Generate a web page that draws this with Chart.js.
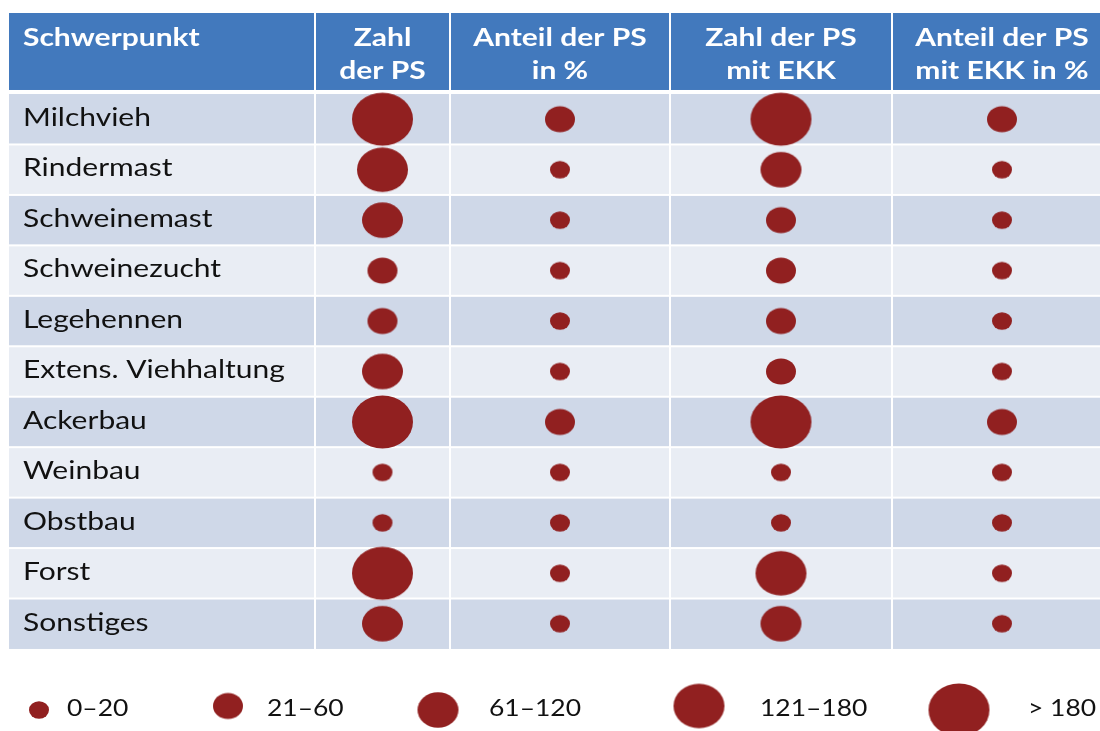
<!DOCTYPE html>
<html lang="de">
<head>
<meta charset="utf-8">
<title>Schwerpunkt – Zahl und Anteil der PS</title>
<script src="https://cdn.jsdelivr.net/npm/chart.js@4.4.1/dist/chart.umd.min.js"></script>
<style>
  html, body { margin: 0; padding: 0; background: #fff; }
  #wrap { width: 1100px; height: 731px; position: relative; }
</style>
</head>
<body>
<div id="wrap"><canvas id="chart"></canvas></div>
<script>
/* Daten: Größenklasse je Zelle (1 = 0–20 ... 5 = > 180) */
const firstHeader = 'Schwerpunkt';
const rows = ['Milchvieh', 'Rindermast', 'Schweinemast', 'Schweinezucht', 'Legehennen',
  'Extens. Viehhaltung', 'Ackerbau', 'Weinbau', 'Obstbau', 'Forst', 'Sonstiges'];
const columns = [['Zahl', 'der PS'], ['Anteil der PS', 'in %'], ['Zahl der PS', 'mit EKK'], ['Anteil der PS', 'mit EKK in %']];
const sizeClasses = ['0–20', '21–60', '61–120', '121–180', '> 180'];

const zahlPS      = [5, 4, 3, 2, 2, 3, 5, 1, 1, 5, 3];
const anteilPS    = [2, 1, 1, 1, 1, 1, 2, 1, 1, 1, 1];
const zahlPSEKK   = [5, 3, 2, 2, 2, 2, 5, 1, 1, 4, 3];
const anteilPSEKK = [2, 1, 1, 1, 1, 1, 2, 1, 1, 1, 1];
const series = [zahlPS, anteilPS, zahlPSEKK, anteilPSEKK];

/* Layout */
const COL_EDGES = [0, 306, 441, 661, 883, 1103];   // x-Einheiten ab linkem Tabellenrand
const Y_MIN = -1.606, Y_MAX = 12.626;               // Zeile i liegt zwischen i und i+1
const HEADER_BOTTOM = -0.08;
const BUBBLE_W = [20, 30, 41, 51, 61];
const BUBBLE_ASPECT = 1.15;                         // Bild ist horizontal gestreckt
const TEXT_STRETCH = 1.2;
const LEGEND_STRETCH = 1.15;
const FONT = 'Lato, "Open Sans", sans-serif';
const COLORS = {
  header: '#4279bd', rowDark: '#cfd8e8', rowLight: '#e9edf4',
  bubble: '#912020', text: '#111111', line: '#ffffff',
};
const LEGEND_KEY_X = [39, 228, 438, 699, 959];
const LEGEND_KEY_Y = [710, 706, 710, 706, 710];
const LEGEND_TEXT_X = [67, 267, 489, 760, 1028];
const LEGEND_TEXT_Y = 716;

function ellipseSprite(w) {
  const h = w / BUBBLE_ASPECT;
  const c = document.createElement('canvas');
  c.width = Math.ceil(w) + 2;
  c.height = Math.ceil(h) + 2;
  const g = c.getContext('2d');
  g.fillStyle = COLORS.bubble;
  g.beginPath();
  g.ellipse(c.width / 2, c.height / 2, w / 2, h / 2, 0, 0, Math.PI * 2);
  g.fill();
  return c;
}
const sprites = BUBBLE_W.map(ellipseSprite);

function stretchedText(ctx, text, x, y, align, sx) {
  ctx.save();
  ctx.translate(x, y);
  ctx.scale(sx, 1);
  ctx.textAlign = align;
  ctx.fillText(text, 0, 0);
  ctx.restore();
}

const colCenter = i => (COL_EDGES[i] + COL_EDGES[i + 1]) / 2;

const tablePlugin = {
  id: 'tableGrid',
  beforeDatasetsDraw(chart) {
    const { ctx, scales: { x, y } } = chart;
    const px = v => x.getPixelForValue(v);
    const py = v => y.getPixelForValue(v);
    const left = px(0), right = px(COL_EDGES[COL_EDGES.length - 1]);
    const top = py(Y_MIN), bottom = py(rows.length);

    ctx.save();
    ctx.fillStyle = COLORS.header;
    ctx.fillRect(left, top, right - left, py(HEADER_BOTTOM) - top);
    rows.forEach((r, i) => {
      ctx.fillStyle = i % 2 ? COLORS.rowLight : COLORS.rowDark;
      ctx.fillRect(left, py(i), right - left, py(i + 1) - py(i));
    });

    ctx.fillStyle = COLORS.line;
    for (let i = 1; i < rows.length; i++) ctx.fillRect(left, py(i) - 1, right - left, 2);
    COL_EDGES.slice(1, -1).forEach(e => ctx.fillRect(px(e) - 1, top, 2, bottom - top));

    // Kopfzeile
    ctx.fillStyle = '#ffffff';
    ctx.font = `bold 25px ${FONT}`;
    ctx.textBaseline = 'alphabetic';
    stretchedText(ctx, firstHeader, left + 14, top + 33, 'left', TEXT_STRETCH);
    columns.forEach((lines, ci) => {
      const cx = px(colCenter(ci + 1));
      lines.forEach((t, li) => stretchedText(ctx, t, cx, top + 33 + li * 33, 'center', TEXT_STRETCH));
    });

    // Zeilenbeschriftung
    ctx.fillStyle = COLORS.text;
    ctx.font = `25px ${FONT}`;
    rows.forEach((r, i) => stretchedText(ctx, r, left + 14, py(i) + 32, 'left', TEXT_STRETCH));
    ctx.restore();
  },
  afterDatasetsDraw(chart) {
    const { ctx } = chart;
    ctx.save();
    sizeClasses.forEach((label, i) => {
      const s = sprites[i];
      ctx.drawImage(s, LEGEND_KEY_X[i] - s.width / 2, LEGEND_KEY_Y[i] - s.height / 2);
      ctx.fillStyle = COLORS.text;
      ctx.font = `23px ${FONT}`;
      stretchedText(ctx, label, LEGEND_TEXT_X[i], LEGEND_TEXT_Y, 'left', LEGEND_STRETCH);
    });
    ctx.restore();
  },
};

const datasets = series.map((vals, ci) => ({
  label: columns[ci].join(' '),
  data: vals.map((c, ri) => ({ x: colCenter(ci + 1), y: ri + 0.5, c })),
  pointStyle: ctx => sprites[ctx.raw.c - 1],
  pointRadius: 10,
  pointHoverRadius: 10,
}));

new Chart(document.getElementById('chart'), {
  type: 'scatter',
  data: { datasets },
  options: {
    responsive: true,
    maintainAspectRatio: false,
    animation: false,
    events: [],
    layout: { autoPadding: false, padding: { left: 9, top: 13, right: 0, bottom: 0 } },
    plugins: { legend: { display: false }, tooltip: { enabled: false } },
    scales: {
      x: { type: 'linear', min: 0, max: 1091, display: false },
      y: { type: 'linear', min: Y_MIN, max: Y_MAX, reverse: true, display: false },
    },
  },
  plugins: [tablePlugin],
});
</script>
</body>
</html>
